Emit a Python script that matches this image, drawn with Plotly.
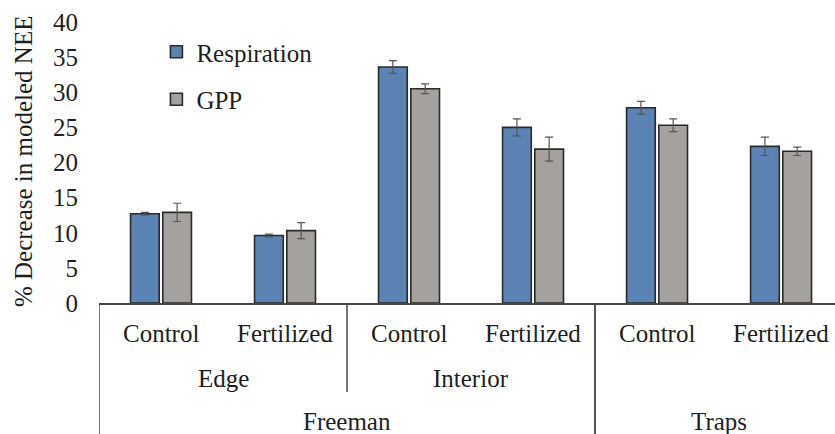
import plotly.graph_objects as go

# Hierarchical categories: site > position > treatment
treatments = ["Control", "Fertilized", "Control", "Fertilized", "Control", "Fertilized"]
position_labels = ["Edge", "Interior"]
position_spans = [(0, 1), (2, 3)]
site_labels = ["Freeman", "Traps"]
site_spans = [(0, 3), (4, 5)]

# Percent decrease in modeled NEE
respiration = [12.7, 9.6, 33.6, 25.0, 27.8, 22.3]
respiration_err = [0.2, 0.2, 0.9, 1.2, 0.9, 1.3]
gpp = [12.9, 10.3, 30.5, 21.9, 25.3, 21.6]
gpp_err = [1.3, 1.15, 0.7, 1.7, 0.9, 0.6]

y_ticks = [0, 5, 10, 15, 20, 25, 30, 35, 40]
y_title = "% Decrease in modeled NEE"

W, H = 835, 434
M_L, M_R, M_T, M_B = 99, 0, 22, 131
PLOT_W = W - M_L - M_R
PLOT_H = H - M_T - M_B

FONT = "Liberation Serif, serif"
TEXT = "#1e1e1e"
AXIS = "#474747"
SIZE = 25

x = list(range(len(treatments)))


def txt(size=SIZE):
    return dict(family=FONT, size=size, color=TEXT)


def below(px):
    """Paper y for a point px pixels below the baseline."""
    return -px / PLOT_H


fig = go.Figure()
fig.add_trace(go.Bar(
    x=x, y=respiration, name="Respiration", legendgroup="r",
    marker=dict(color="#5b84b4", line=dict(color="#2a2a2a", width=1.6)),
    error_y=dict(type="data", array=respiration_err, color="#555555", thickness=1.2, width=4),
))
fig.add_trace(go.Bar(
    x=x, y=gpp, name="GPP", legendgroup="g",
    marker=dict(color="#a7a19e", line=dict(color="#2a2a2a", width=1.6)),
    error_y=dict(type="data", array=gpp_err, color="#555555", thickness=1.2, width=4),
))

# Category labels, three levels
annotations = []
for i, t in enumerate(treatments):
    annotations.append(dict(x=i, y=0, yref="paper", xref="x", text=t, showarrow=False,
                            yanchor="middle", yshift=-30, font=txt()))
for (a, b), lab in zip(position_spans, position_labels):
    annotations.append(dict(x=(a + b) / 2, y=0, yref="paper", xref="x", text=lab, showarrow=False,
                            yanchor="middle", yshift=-75, font=txt()))
for (a, b), lab in zip(site_spans, site_labels):
    annotations.append(dict(x=(a + b) / 2, y=0, yref="paper", xref="x", text=lab, showarrow=False,
                            yanchor="middle", yshift=-118, font=txt()))

# Vertical axis title
annotations.append(dict(x=-76 / PLOT_W, y=0.505, xref="paper", yref="paper", text=y_title,
                        textangle=-90, showarrow=False, xanchor="center", yanchor="middle",
                        font=txt()))

# Group separator lines below the axis
shapes = []
for a, b in site_spans:
    for edge in (a - 0.5, b + 0.5):
        shapes.append(dict(type="line", xref="x", yref="paper", x0=edge, x1=edge,
                           y0=0, y1=below(140), line=dict(color=AXIS, width=1.5)))
for a, b in position_spans[:-1]:
    edge = b + 0.5
    shapes.append(dict(type="line", xref="x", yref="paper", x0=edge, x1=edge,
                       y0=0, y1=below(89), line=dict(color=AXIS, width=1.5)))

fig.update_layout(
    width=W, height=H,
    margin=dict(l=M_L, r=M_R, t=M_T, b=M_B),
    paper_bgcolor="white", plot_bgcolor="white",
    font=txt(),
    barmode="group", bargap=0.48, bargroupgap=0.11,
    showlegend=True,
    legend=dict(x=0.078, y=0.975, xanchor="left", yanchor="top",
                bgcolor="rgba(0,0,0,0)", tracegroupgap=12,
                font=txt()),
    xaxis=dict(range=[-0.5, 5.435], showticklabels=False, ticks="",
               showline=True, linecolor=AXIS, linewidth=1.5,
               showgrid=False, zeroline=False, fixedrange=True),
    yaxis=dict(range=[0, 40], tickvals=y_ticks, ticks="", showline=False,
               showgrid=False, zeroline=False, ticklabelstandoff=20,
               tickfont=txt()),
    annotations=annotations,
    shapes=shapes,
)

fig.write_html("out.html")
